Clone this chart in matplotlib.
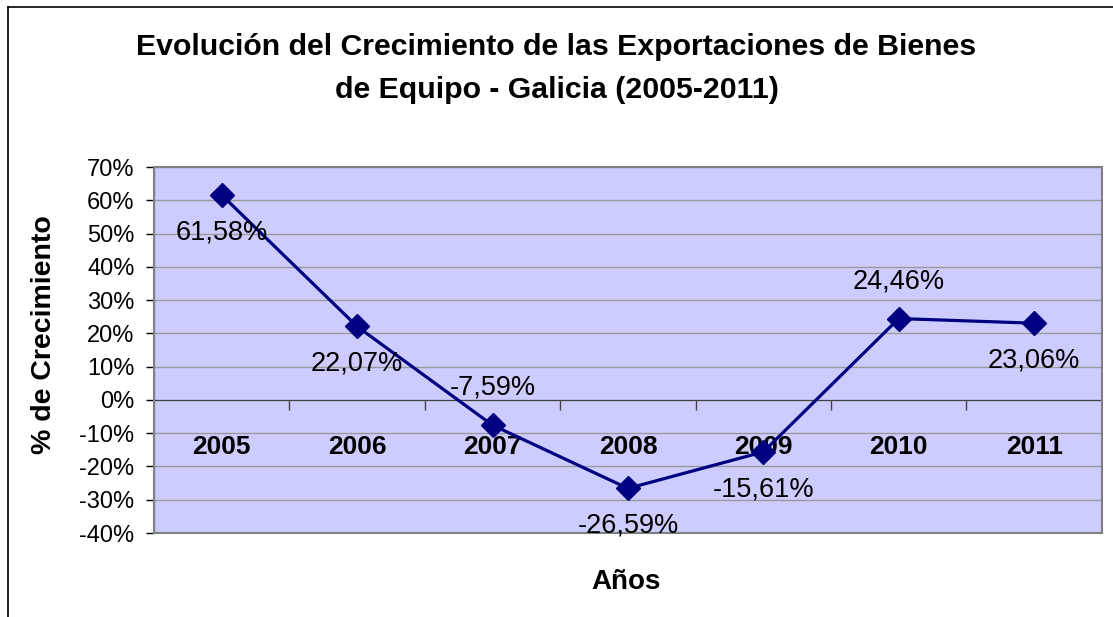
import numpy as np
import matplotlib.pyplot as plt
from matplotlib.patches import Rectangle
from matplotlib.ticker import FixedLocator

plt.rcParams['font.family'] = ['Liberation Sans', 'DejaVu Sans']

years = ["2005", "2006", "2007", "2008", "2009", "2010", "2011"]
growth = [0.6158, 0.2207, -0.0759, -0.2659, -0.1561, 0.2446, 0.2306]
point_labels = ["61,58%", "22,07%", "-7,59%", "-26,59%", "-15,61%", "24,46%", "23,06%"]
label_side = [-1, -1, 1, -1, -1, 1, -1]   # 1 = above the point, -1 = below
y_ticks = [-0.4, -0.3, -0.2, -0.1, 0.0, 0.1, 0.2, 0.3, 0.4, 0.5, 0.6, 0.7]
y_ticklabels = ["-40%", "-30%", "-20%", "-10%", "0%", "10%", "20%", "30%",
                "40%", "50%", "60%", "70%"]

fig = plt.figure(figsize=(11.13, 6.17), dpi=100)
ax = fig.add_axes([0.1384, 0.1361, 0.8516, 0.5932])
ax.set_facecolor("#CCCCFF")

x = np.arange(len(years))
ax.plot(x, growth, color="#000080", lw=2.3, marker="D", ms=12.5, zorder=5)
for xi, v, lab, s in zip(x, growth, point_labels, label_side):
    ax.annotate(lab, (xi, v), xytext=(0, 27 * s), textcoords="offset points",
                ha="center", va="center", fontsize=19.5, zorder=6)

ax.set_xlim(-0.5, len(years) - 0.5)
ax.set_ylim(-0.4, 0.7)
ax.set_yticks(y_ticks)
ax.set_yticklabels(y_ticklabels)
ax.tick_params(axis="y", labelsize=17, length=6, width=1, direction="out", pad=8)
ax.grid(axis="y", color="#999999", lw=1)
ax.set_axisbelow(True)

# category axis crosses at 0
ax.spines["bottom"].set_position(("data", 0))
ax.spines["bottom"].set_color("#404040")
ax.set_xticks(x)
ax.set_xticklabels(years, fontsize=19, fontweight="bold")
ax.tick_params(axis="x", which="major", length=0, pad=25.5)
ax.xaxis.set_minor_locator(FixedLocator(np.arange(0.5, len(years) - 1, 1)))
ax.tick_params(axis="x", which="minor", length=7, width=1, color="#404040", direction="out")
for s in ["top", "right"]:
    ax.spines[s].set_visible(False)
ax.spines["left"].set_color("black")
ax.add_patch(Rectangle((0, 0), 1, 1, transform=ax.transAxes, fill=False,
                       edgecolor="#808080", lw=1.5, zorder=4, clip_on=False))

fig.text(0.5, 1 - 47 / 617, "Evolución del Crecimiento de las Exportaciones de Bienes",
         ha="center", va="center", fontsize=21.8, fontweight="bold")
fig.text(0.5, 1 - 90 / 617, "de Equipo - Galicia (2005-2011)",
         ha="center", va="center", fontsize=21.8, fontweight="bold")
fig.text(44 / 1113, 1 - 335 / 617, "% de Crecimiento", rotation=90,
         ha="center", va="center", fontsize=20.5, fontweight="bold")
fig.text(626 / 1113, 1 - 582 / 617, "Años", ha="center", va="center",
         fontsize=20, fontweight="bold")

# chart-area border (left and top edges visible)
fig.add_artist(plt.Line2D([8 / 1113, 8 / 1113], [0, 1 - 7 / 617], color="black", lw=1.2))
fig.add_artist(plt.Line2D([8 / 1113, 1], [1 - 7 / 617, 1 - 7 / 617], color="black", lw=1.2))

fig.savefig("out.png", dpi=100)
